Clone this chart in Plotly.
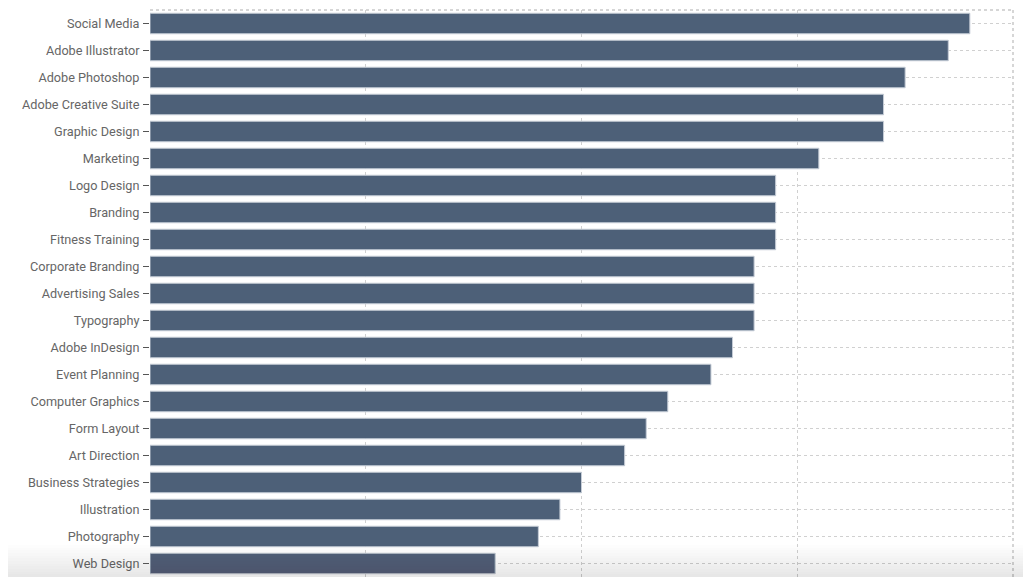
import plotly.graph_objects as go

categories = ["Social Media", "Adobe Illustrator", "Adobe Photoshop", "Adobe Creative Suite",
              "Graphic Design", "Marketing", "Logo Design", "Branding", "Fitness Training",
              "Corporate Branding", "Advertising Sales", "Typography", "Adobe InDesign",
              "Event Planning", "Computer Graphics", "Form Layout", "Art Direction",
              "Business Strategies", "Illustration", "Photography", "Web Design"]
values = [38, 37, 35, 34, 34, 31, 29, 29, 29, 28, 28, 28, 27, 26, 24, 23, 22, 20, 19, 18, 16]
x_ticks = [0, 10, 20, 30, 40]

fig = go.Figure(go.Bar(
    y=categories, x=values, orientation="h",
    marker=dict(color="#4d6078", line=dict(color="#c5ccd6", width=1)),
))

fig.update_layout(
    width=1023, height=569,
    margin=dict(l=142, r=18, t=2, b=0),
    paper_bgcolor="white", plot_bgcolor="white",
    bargap=0.24, showlegend=False,
    font=dict(family="Roboto, sans-serif", size=12.7, color="#666"),
    xaxis=dict(range=[0, 40], tickvals=x_ticks, showticklabels=False, showgrid=True,
               gridcolor="#d0d0d0", griddash="dot", gridwidth=1, zeroline=False,
               showline=False, fixedrange=True),
    yaxis=dict(autorange=False, showgrid=True, gridcolor="#d0d0d0", griddash="dot",
               gridwidth=1, ticks="outside", ticklen=6, tickcolor="#555", ticklabelstandoff=1,
               showline=False, zeroline=False, range=[20.5, -0.5]),
    shapes=[
        dict(type="line", xref="paper", yref="paper", x0=0, x1=1, y0=1, y1=1,
             line=dict(color="#d6d6d6", width=2, dash="dot"), layer="below"),
        dict(type="line", xref="paper", yref="paper", x0=1, x1=1, y0=0, y1=1,
             line=dict(color="#d6d6d6", width=2, dash="dot"), layer="below"),
    ],
)

# bottom fading overlay
n = 12
for i in range(n):
    y0 = 32 * i / n
    fig.add_shape(type="rect", xref="paper", yref="paper",
                  x0=-0.2, x1=1.05, y0=0, y1=(32 - y0) / 567,
                  fillcolor="rgba(120,120,120,0.011)", line=dict(width=0), layer="above")

fig.write_html("out.html")
